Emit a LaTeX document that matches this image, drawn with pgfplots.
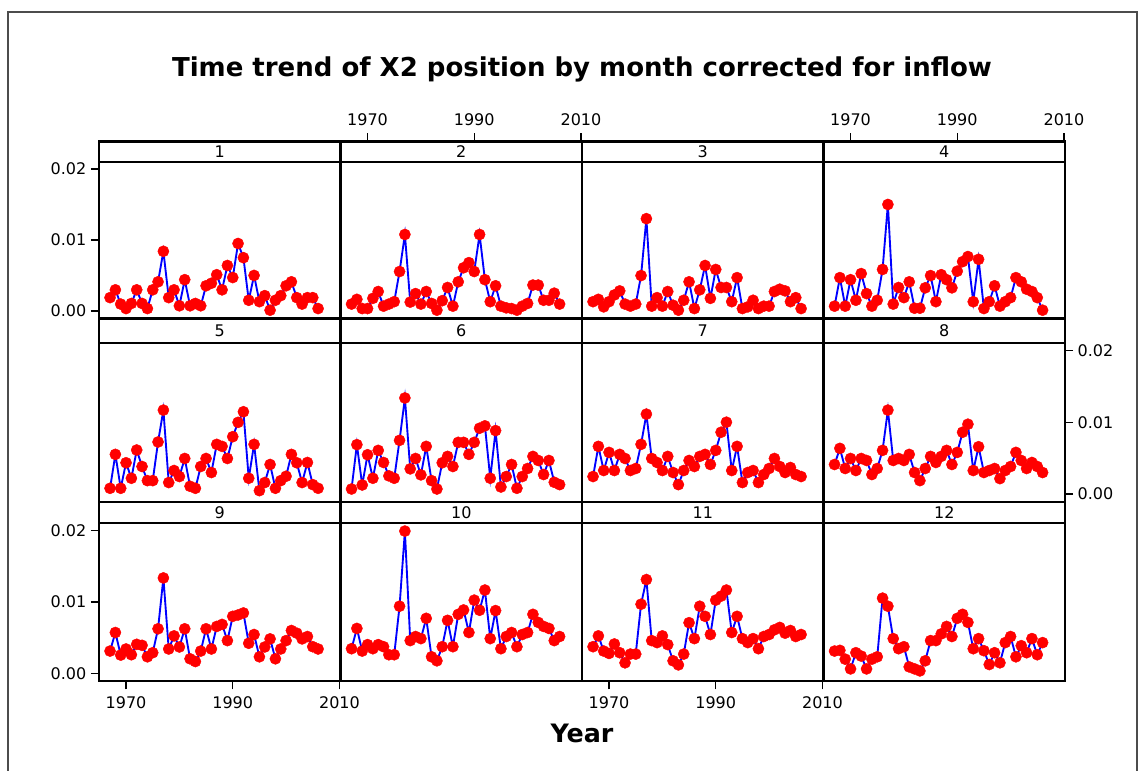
\documentclass[border=0pt]{standalone}
\usepackage{pgfplots}
\pgfplotsset{compat=1.18}
\usepackage{pgfplotstable}
\usepackage{fontspec}
\setmainfont{DejaVu Sans}

\pgfplotstableread{
year m1 m2 m3 m4 m5 m6 m7 m8 m9 m10 m11 m12
1967 1.87e-3 0.96e-3 1.30e-3 0.67e-3 0.80e-3 0.70e-3 2.44e-3 4.12e-3 3.15e-3 3.48e-3 3.76e-3 3.15e-3
1968 2.97e-3 1.63e-3 1.63e-3 4.69e-3 5.53e-3 6.89e-3 6.65e-3 6.37e-3 5.74e-3 6.31e-3 5.27e-3 3.25e-3
1969 0.96e-3 0.33e-3 0.57e-3 0.67e-3 0.80e-3 1.26e-3 3.28e-3 3.56e-3 2.59e-3 3.15e-3 3.15e-3 2.02e-3
1970 0.33e-3 0.33e-3 1.30e-3 4.40e-3 4.36e-3 5.48e-3 5.81e-3 4.96e-3 3.44e-3 4.05e-3 2.82e-3 0.66e-3
1971 1.05e-3 1.77e-3 2.25e-3 1.50e-3 2.20e-3 2.20e-3 3.28e-3 3.28e-3 2.64e-3 3.48e-3 4.14e-3 2.92e-3
1972 2.97e-3 2.73e-3 2.82e-3 5.26e-3 6.14e-3 6.09e-3 5.53e-3 4.96e-3 4.09e-3 4.05e-3 2.92e-3 2.45e-3
1973 1.05e-3 0.67e-3 0.96e-3 2.44e-3 3.84e-3 4.40e-3 4.96e-3 4.68e-3 3.95e-3 3.76e-3 1.51e-3 0.66e-3
1974 0.33e-3 0.96e-3 0.67e-3 0.67e-3 1.87e-3 2.53e-3 3.28e-3 2.72e-3 2.35e-3 2.64e-3 2.73e-3 2.02e-3
1975 2.97e-3 1.30e-3 0.96e-3 1.50e-3 1.87e-3 2.20e-3 3.56e-3 3.56e-3 2.92e-3 2.64e-3 2.73e-3 2.35e-3
1976 4.10e-3 5.55e-3 4.98e-3 5.84e-3 7.26e-3 7.49e-3 6.93e-3 6.09e-3 6.26e-3 9.41e-3 9.69e-3 10.54e-3
1977 8.40e-3 10.77e-3 13.00e-3 15.00e-3 11.71e-3 13.40e-3 11.15e-3 11.71e-3 13.36e-3 19.90e-3 13.13e-3 9.41e-3
1978 1.87e-3 1.24e-3 0.67e-3 0.96e-3 1.60e-3 3.51e-3 4.96e-3 4.68e-3 3.44e-3 4.61e-3 4.61e-3 4.89e-3
1979 2.97e-3 2.44e-3 1.87e-3 3.30e-3 3.28e-3 4.96e-3 4.40e-3 4.96e-3 5.27e-3 5.18e-3 4.33e-3 3.48e-3
1980 0.72e-3 0.96e-3 0.67e-3 1.87e-3 2.44e-3 2.67e-3 3.28e-3 4.68e-3 3.72e-3 4.89e-3 5.27e-3 3.76e-3
1981 4.40e-3 2.73e-3 2.73e-3 4.10e-3 4.96e-3 6.65e-3 5.25e-3 5.53e-3 6.26e-3 7.72e-3 4.05e-3 0.94e-3
1982 0.72e-3 1.05e-3 0.80e-3 0.38e-3 1.08e-3 1.87e-3 3.00e-3 3.00e-3 2.07e-3 2.35e-3 1.79e-3 0.66e-3
1983 1.05e-3 0.10e-3 0.10e-3 0.38e-3 0.80e-3 0.70e-3 1.31e-3 1.87e-3 1.69e-3 1.79e-3 1.22e-3 0.38e-3
1984 0.72e-3 1.44e-3 1.50e-3 3.25e-3 3.84e-3 4.36e-3 3.28e-3 3.56e-3 3.15e-3 3.76e-3 2.73e-3 1.79e-3
1985 3.54e-3 3.30e-3 4.10e-3 4.98e-3 4.96e-3 5.25e-3 4.68e-3 5.25e-3 6.26e-3 7.44e-3 7.11e-3 4.61e-3
1986 3.90e-3 0.67e-3 0.33e-3 1.30e-3 3.00e-3 3.84e-3 3.84e-3 4.40e-3 3.44e-3 3.76e-3 4.89e-3 4.61e-3
1987 5.10e-3 4.10e-3 2.97e-3 5.10e-3 6.93e-3 7.21e-3 5.25e-3 5.25e-3 6.59e-3 8.28e-3 9.41e-3 5.55e-3
1988 2.97e-3 6.08e-3 6.40e-3 4.40e-3 6.65e-3 7.21e-3 5.53e-3 6.09e-3 6.87e-3 8.89e-3 8.00e-3 6.59e-3
1989 6.40e-3 6.80e-3 1.77e-3 3.25e-3 4.96e-3 5.53e-3 4.12e-3 4.12e-3 4.61e-3 5.74e-3 5.46e-3 5.18e-3
1990 4.70e-3 5.55e-3 5.84e-3 5.60e-3 8.00e-3 7.21e-3 6.09e-3 5.81e-3 8.00e-3 10.26e-3 10.26e-3 7.72e-3
1991 9.50e-3 10.77e-3 3.30e-3 6.94e-3 10.00e-3 9.18e-3 8.62e-3 8.62e-3 8.19e-3 8.85e-3 10.82e-3 8.28e-3
1992 7.50e-3 4.40e-3 3.30e-3 7.66e-3 11.48e-3 9.51e-3 10.02e-3 9.74e-3 8.47e-3 11.67e-3 11.67e-3 7.15e-3
1993 1.50e-3 1.30e-3 1.30e-3 1.29e-3 2.20e-3 2.20e-3 3.28e-3 3.28e-3 4.24e-3 4.89e-3 5.74e-3 3.48e-3
1994 5.00e-3 3.54e-3 4.69e-3 7.27e-3 6.93e-3 8.85e-3 6.65e-3 6.60e-3 5.46e-3 8.80e-3 8.00e-3 4.89e-3
1995 1.30e-3 0.67e-3 0.33e-3 0.33e-3 0.47e-3 0.98e-3 1.60e-3 3.00e-3 2.35e-3 3.48e-3 4.89e-3 3.20e-3
1996 2.15e-3 0.43e-3 0.57e-3 1.30e-3 1.60e-3 2.44e-3 3.00e-3 3.28e-3 3.72e-3 5.18e-3 4.33e-3 1.27e-3
1997 0.10e-3 0.33e-3 1.50e-3 3.54e-3 4.12e-3 4.12e-3 3.28e-3 3.56e-3 4.85e-3 5.74e-3 4.89e-3 2.92e-3
1998 1.50e-3 0.10e-3 0.33e-3 0.67e-3 0.80e-3 0.80e-3 1.60e-3 2.15e-3 2.07e-3 3.76e-3 3.48e-3 1.51e-3
1999 2.15e-3 0.67e-3 0.67e-3 1.30e-3 1.87e-3 2.44e-3 2.72e-3 3.28e-3 3.44e-3 5.46e-3 5.18e-3 4.33e-3
2000 3.54e-3 1.05e-3 0.67e-3 1.87e-3 2.48e-3 3.56e-3 3.56e-3 3.84e-3 4.61e-3 5.74e-3 5.46e-3 5.18e-3
2001 4.10e-3 3.64e-3 2.73e-3 4.69e-3 5.53e-3 5.25e-3 4.96e-3 5.81e-3 6.02e-3 8.28e-3 6.12e-3 2.35e-3
2002 1.87e-3 3.64e-3 3.06e-3 4.10e-3 4.36e-3 4.68e-3 3.84e-3 4.68e-3 5.65e-3 7.15e-3 6.45e-3 3.90e-3
2003 0.96e-3 1.50e-3 2.82e-3 3.06e-3 1.60e-3 2.72e-3 3.00e-3 3.56e-3 4.85e-3 6.59e-3 5.65e-3 2.92e-3
2004 1.87e-3 1.50e-3 1.30e-3 2.73e-3 4.40e-3 4.68e-3 3.70e-3 4.40e-3 5.18e-3 6.31e-3 6.02e-3 4.89e-3
2005 1.87e-3 2.50e-3 1.87e-3 1.87e-3 1.31e-3 1.64e-3 2.72e-3 3.84e-3 3.76e-3 4.61e-3 5.18e-3 2.64e-3
2006 0.33e-3 0.96e-3 0.33e-3 0.10e-3 0.80e-3 1.31e-3 2.44e-3 3.00e-3 3.44e-3 5.18e-3 5.46e-3 4.33e-3
}\xtwo

\pgfplotsset{
  common/.style={anchor=south west, width=181.125pt, scale only axis,
    xmin=1964.93, xmax=2010.2,
    axis line style={line width=1.6pt, black},
    xtick=\empty, ytick=\empty,
    tick align=outside, major tick length=6pt,
    every tick/.style={line width=0.9pt, black},
    tick label style={font=\fontsize{12}{14}\selectfont},
    xticklabel style={inner sep=5.5pt, /pgf/number format/1000 sep={}, /pgf/number format/assume math mode=true},
    yticklabel style={/pgf/number format/.cd, fixed, fixed zerofill, precision=2, assume math mode=true},
    scaled y ticks=false, scaled x ticks=false},
  panel/.style={common, ymin=-0.00107, ymax=0.02103},
  stripax/.style={common, ymin=0, ymax=1},
  series/.style={blue, line width=1.4pt, mark=*, mark size=4.2pt,
    mark options={fill=red, draw=red, line width=0.3pt}},
  xt/.style={xtick={1970,1990,2010}},
  yt/.style={ytick={0,0.01,0.02}},
}

\newcommand{\panel}[5]{%
  \begin{axis}[panel, at={(#1,#2)}, height=#3, #5]
    \addplot[series] table[x=year, y=#4] {\xtwo};
  \end{axis}}
\newcommand{\strip}[5]{%
  \begin{axis}[stripax, at={(#1,#2)}, height=#3, #5]
    \node[font=\fontsize{12}{14}\selectfont] at (axis description cs:0.5,0.5) {#4};
  \end{axis}}

\begin{document}
\begin{tikzpicture}
\useasboundingbox (0,0) rectangle (857.25pt,578.25pt);
\draw[black!70, line width=0.8pt] (6pt,-5pt) rectangle (852.75pt,569.25pt);

\node[font=\fontsize{19.5}{24}\selectfont\bfseries] at (436.5pt,526pt)
  {Time trend of X2 position by month corrected for inflow};
\node[font=\fontsize{19}{24}\selectfont\bfseries] at (436.5pt,28.5pt) {Year};

% Row 1
\panel{74.25pt}{339.375pt}{117.6pt}{m1}{yt, ytick pos=lower}
\panel{255.375pt}{339.375pt}{117.6pt}{m2}{}
\panel{436.5pt}{339.375pt}{117.6pt}{m3}{}
\panel{617.625pt}{339.375pt}{117.6pt}{m4}{}
\strip{74.25pt}{456.975pt}{15.15pt}{1}{}
\strip{255.375pt}{456.975pt}{15.15pt}{2}{xt, xtick pos=upper, xticklabel pos=upper}
\strip{436.5pt}{456.975pt}{15.15pt}{3}{}
\strip{617.625pt}{456.975pt}{15.15pt}{4}{xt, xtick pos=upper, xticklabel pos=upper}

% Row 2
\panel{74.25pt}{201.975pt}{118.8pt}{m5}{}
\panel{255.375pt}{201.975pt}{118.8pt}{m6}{}
\panel{436.5pt}{201.975pt}{118.8pt}{m7}{}
\panel{617.625pt}{201.975pt}{118.8pt}{m8}{yt, ytick pos=upper, yticklabel pos=upper}
\strip{74.25pt}{320.775pt}{18.6pt}{5}{}
\strip{255.375pt}{320.775pt}{18.6pt}{6}{}
\strip{436.5pt}{320.775pt}{18.6pt}{7}{}
\strip{617.625pt}{320.775pt}{18.6pt}{8}{}

% Row 3
\panel{74.25pt}{67.275pt}{118.725pt}{m9}{yt, ytick pos=lower, xt, xtick pos=lower}
\panel{255.375pt}{67.275pt}{118.725pt}{m10}{}
\panel{436.5pt}{67.275pt}{118.725pt}{m11}{xt, xtick pos=lower}
\panel{617.625pt}{67.275pt}{118.725pt}{m12}{}
\strip{74.25pt}{186pt}{15.975pt}{9}{}
\strip{255.375pt}{186pt}{15.975pt}{10}{}
\strip{436.5pt}{186pt}{15.975pt}{11}{}
\strip{617.625pt}{186pt}{15.975pt}{12}{}
\end{tikzpicture}
\end{document}
